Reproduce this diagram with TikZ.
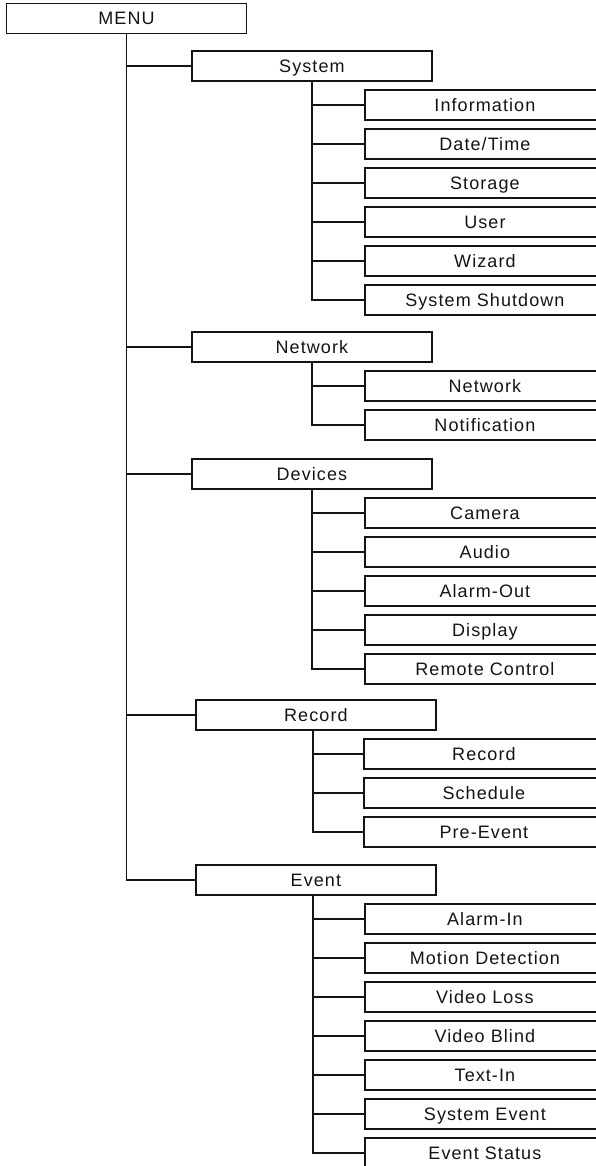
\documentclass[tikz,border=0pt]{standalone}
\usepackage{fontspec}
\setmainfont{Liberation Sans}[LetterSpace=6]
\usepackage{tikz}
\usetikzlibrary{calc}
\definecolor{menuline}{RGB}{20,20,20}

\tikzset{
	menubox/.style={draw=menuline, line width=1.8pt, fill=white, minimum width=240pt,
		minimum height=30pt, inner sep=0pt, text height=13pt, text depth=0pt,
		text=menuline, font=\fontsize{18}{21}\selectfont},
	leafbox/.style={menubox, anchor=west},
	link/.style={draw=menuline, line width=1.5pt}
}

\begin{document}
\begin{tikzpicture}[x=1pt,y=-1pt]
	\useasboundingbox (0,0) rectangle (596,1166);
	% top
	\node[menubox] (menu) at (126.5,18.5) {MENU};
	% second level
	\node[leafbox] (sys) at (191,66) {System};
	\node[leafbox] (net) at (191,347) {Network};
	\node[leafbox] (dev) at (191,474) {Devices};
	\node[leafbox] (rec) at (195,715) {Record};
	\node[leafbox] (evt) at (195,880) {Event};
	\foreach \grp in {sys,net,dev,rec,evt}
		\draw[link] (menu.south) |- (\grp.west);
	% leaves
	\foreach \t [count=\i] in {Information,{Date/Time},Storage,User,Wizard,System Shutdown}{
		\node[leafbox] (sys\i) at (364,66+39*\i) {\t};
		\draw[link] (sys.south) |- (sys\i.west);
	}
	\foreach \t [count=\i] in {Network,Notification}{
		\node[leafbox] (net\i) at (364,347+39*\i) {\t};
		\draw[link] (net.south) |- (net\i.west);
	}
	\foreach \t [count=\i] in {Camera,Audio,Alarm-Out,Display,Remote Control}{
		\node[leafbox] (dev\i) at (364,474+39*\i) {\t};
		\draw[link] (dev.south) |- (dev\i.west);
	}
	\foreach \t [count=\i] in {Record,Schedule,Pre-Event}{
		\node[leafbox] (rec\i) at (363,715+39*\i) {\t};
		\draw[link] ([xshift=-3pt]rec.south) |- (rec\i.west);
	}
	\foreach \t [count=\i] in {Alarm-In,Motion Detection,Video Loss,Video Blind,Text-In,System Event,Event Status}{
		\node[leafbox] (evt\i) at (364,880+39*\i) {\t};
		\draw[link] ([xshift=-3pt]evt.south) |- (evt\i.west);
	}
\end{tikzpicture}
\end{document}
